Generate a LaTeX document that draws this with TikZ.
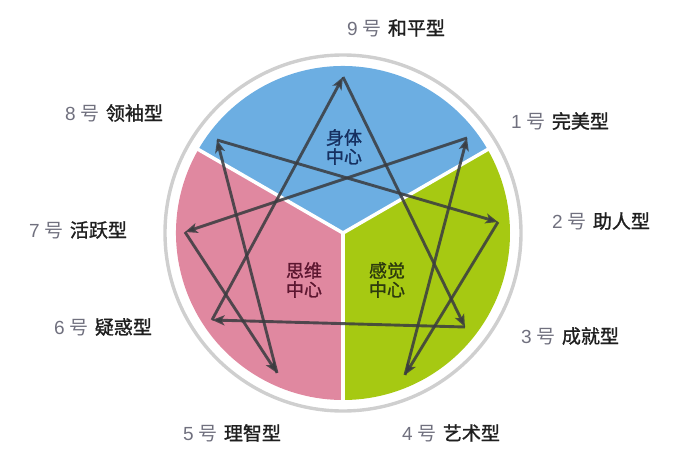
\documentclass[tikz,border=0pt]{standalone}
\usepackage{fontspec}
\setmainfont{Liberation Sans}
\newfontfamily\cjk{Noto Sans CJK SC}
\newfontfamily\cjkmed{Noto Sans CJK SC}[FakeBold=1.3]
\usetikzlibrary{arrows.meta}

\definecolor{bodyblue}{RGB}{108,174,226}
\definecolor{mindpink}{RGB}{224,136,160}
\definecolor{heartgreen}{RGB}{166,201,18}
\definecolor{numgray}{RGB}{112,112,126}
\definecolor{linegray}{RGB}{58,60,64}
\definecolor{bodytext}{RGB}{22,48,96}
\definecolor{mindtext}{RGB}{92,22,48}
\definecolor{hearttext}{RGB}{44,58,14}

\newcommand{\typ}[2]{{\color{numgray}#1 {\cjk 号}}\hspace{6pt}{\cjkmed\color{black!88}#2}}

\begin{document}
\begin{tikzpicture}[x=1pt, y=1pt,
  >={Stealth[length=12.5pt,width=10pt,inset=3pt]},
  edge/.style={->, line width=2.9pt, draw=linegray, draw opacity=0.85, fill opacity=0.9, fill=linegray},
  typelabel/.style={font=\fontsize{19}{19}\selectfont, inner sep=0pt},
  centre/.style={font=\cjkmed\fontsize{18}{19}\selectfont, align=center, inner sep=0pt}]

\useasboundingbox (-343,-239) rectangle (348,233);

%\draw[step=10pt, gray!30] (-343,-239) grid (348,233);

% ring and the three centres
\draw[gray!38, line width=3.4pt] (0,0) circle (178pt);
\fill[bodyblue] (0,0) -- (30:167pt) arc (30:150:167pt) -- cycle;
\fill[mindpink] (0,0) -- (150:167pt) arc (150:270:167pt) -- cycle;
\fill[heartgreen] (0,0) -- (270:167pt) arc (270:390:167pt) -- cycle;

\foreach \a in {30,150,270}
\draw[white, line width=3.5pt] (0,0) -- (\a:168pt);

\node[centre, text=bodytext] (body) at (1,86) {身体\\中心};
\node[centre, text=mindtext] (mind) at (-39,-47) {思维\\中心};
\node[centre, text=hearttext] (heart) at (44,-47) {感觉\\中心};

% points of the figure
\coordinate (p9) at (0,156);
\coordinate (p1) at (124,95);
\coordinate (p2) at (155,11);
\coordinate (p3) at (122,-94);
\coordinate (p4) at (62,-142);
\coordinate (p5) at (-66,-140);
\coordinate (p6) at (-131,-87);
\coordinate (p7) at (-158,1);
\coordinate (p8) at (-126,93);

\draw[edge] (p9) -- (p3);
\draw[edge] (p3) -- (p6);
\draw[edge] (p6) -- (p9);

\draw[edge] (p1) -- (p7);
\draw[edge] (p7) -- (p5);
\draw[edge] (p5) -- (p8);
\draw[edge] (p8) -- (p2);
\draw[edge] (p2) -- (p4);
\draw[edge] (p4) -- (p1);

% types
\node[typelabel] (t9) at (53,205) {\typ{9}{和平型}};
\node[typelabel] (t1) at (217,112) {\typ{1}{完美型}};
\node[typelabel] (t2) at (258,12) {\typ{2}{助人型}};
\node[typelabel] (t3) at (227,-103) {\typ{3}{成就型}};
\node[typelabel] (t4) at (108,-200) {\typ{4}{艺术型}};
\node[typelabel] (t5) at (-111,-200) {\typ{5}{理智型}};
\node[typelabel] (t6) at (-240,-94) {\typ{6}{疑惑型}};
\node[typelabel] (t7) at (-265,3) {\typ{7}{活跃型}};
\node[typelabel] (t8) at (-229,120) {\typ{8}{领袖型}};

\end{tikzpicture}
\end{document}
